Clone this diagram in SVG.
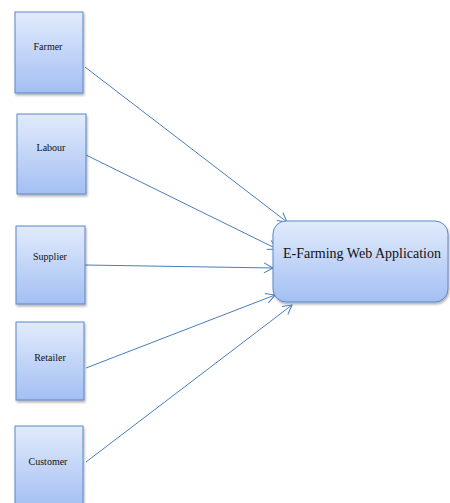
<svg xmlns="http://www.w3.org/2000/svg" width="450" height="503" viewBox="0 0 450 503">
<defs>
<linearGradient id="g" x1="0" y1="0" x2="0" y2="1">
<stop offset="0" stop-color="#e2ebfc"/>
<stop offset="1" stop-color="#a3bff3"/>
</linearGradient>
<filter id="sh" x="-10%" y="-10%" width="130%" height="130%">
<feDropShadow dx="1" dy="2" stdDeviation="1" flood-color="#000" flood-opacity="0.3"/>
</filter>
<marker id="ah" markerWidth="12" markerHeight="12" refX="10" refY="6" orient="auto" markerUnits="userSpaceOnUse">
<path d="M1,1 L10,6 L1,11" fill="none" stroke="#4a7ebb" stroke-width="1"/>
</marker>
<style>
.box{fill:url(#g);stroke:#5b87c8;stroke-width:1;filter:url(#sh)}
.lbl{font-family:"Liberation Serif",serif;font-size:10px;fill:#111;text-anchor:middle}
.big{font-family:"Liberation Serif",serif;font-size:14px;fill:#111;text-anchor:middle}
.edge{stroke:#4a7ebb;stroke-width:1;fill:none;marker-end:url(#ah)}
</style>
</defs>
<rect width="450" height="503" fill="#fff"/>
<g id="connectors">
<line class="edge" x1="85" y1="67" x2="287" y2="222"/>
<line class="edge" x1="86" y1="155" x2="277" y2="249"/>
<line class="edge" x1="85" y1="265" x2="273" y2="268"/>
<line class="edge" x1="86" y1="368" x2="275" y2="295"/>
<line class="edge" x1="86" y1="462" x2="292" y2="305"/>
</g>
<g id="farmer">
<rect class="box" x="15" y="12" width="68" height="81"/>
<text class="lbl" x="48" y="50">Farmer</text>
</g>
<g id="labour">
<rect class="box" x="17" y="114" width="69" height="80"/>
<text class="lbl" x="51" y="151">Labour</text>
</g>
<g id="supplier">
<rect class="box" x="16" y="226" width="69" height="78"/>
<text class="lbl" x="50" y="260">Supplier</text>
</g>
<g id="retailer">
<rect class="box" x="16" y="322" width="68" height="78"/>
<text class="lbl" x="50" y="361">Retailer</text>
</g>
<g id="customer">
<rect class="box" x="15" y="426" width="68" height="82"/>
<text class="lbl" x="48" y="465">Customer</text>
</g>
<g id="app">
<rect class="box" x="273" y="221" width="175" height="81" rx="13" ry="13"/>
<text class="big" x="362" y="258">E-Farming Web Application</text>
</g>
</svg>
